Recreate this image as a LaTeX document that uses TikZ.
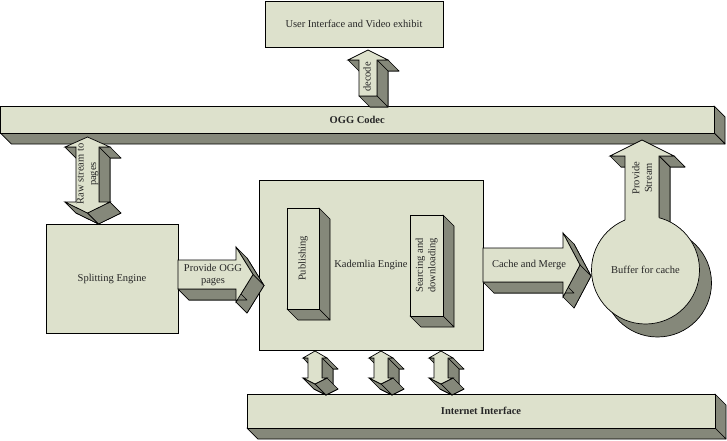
\documentclass[tikz,border=0pt]{standalone}
\usepackage{fontspec}
\setmainfont{Liberation Serif}
\usetikzlibrary{calc}
\definecolor{facec}{RGB}{221,225,204}
\definecolor{sidec}{RGB}{133,136,122}
\tikzset{
 face/.style={fill=facec,draw=black,line width=0.7pt,line join=miter},
 side/.style={fill=sidec,draw=black,line width=0.7pt,line join=round},
 lbl/.style={font=\fontsize{10.5}{12.5}\selectfont,align=center,inner sep=0pt,text=black!85},
}
% side parallelogram of the edge (#1,#2)-(#3,#4), extruded by (11,11)
\newcommand\pg[4]{\filldraw[side] ({#1},{#2}) -- ({#3},{#4}) -- ({#3+11},{#4+11}) -- ({#1+11},{#2+11}) -- cycle;}
% flat box: name x1 y1 x2 y2 text
\newcommand\flatbox[6]{\node[face,lbl,outer sep=0pt,minimum width={(#4-#2)*1pt},minimum height={(#5-#3)*1pt}] (#1) at ({(#2+#4)/2},{(#3+#5)/2}) {#6};}
\newcommand\solidbox[6]{\pg{#4}{#3}{#4}{#5}\pg{#4}{#5}{#2}{#5}\flatbox{#1}{#2}{#3}{#4}{#5}{#6}}
% right arrow: tail x, head x, tip x, centre y, shaft half, head half
\newcommand\rarrow[6]{%
 \begin{scope}[shift={(11,11)}]
 \filldraw[side] ({#1},{#4-#5}) -- ({#2},{#4-#5}) -- ({#2},{#4-#6}) -- ({#3},{#4}) -- ({#2},{#4+#6}) -- ({#2},{#4+#5}) -- ({#1},{#4+#5}) -- cycle;
 \end{scope}
 \pg{#2}{#4-#6}{#3}{#4}\pg{#3}{#4}{#2}{#4+#6}\pg{#2}{#4+#5}{#1}{#4+#5}
 \filldraw[face] ({#1},{#4-#5}) -- ({#2},{#4-#5}) -- ({#2},{#4-#6}) -- ({#3},{#4}) -- ({#2},{#4+#6}) -- ({#2},{#4+#5}) -- ({#1},{#4+#5}) -- cycle;}
% up arrow: cx, tip y, wing y, bottom y, shaft half, wing half
\newcommand\uarrow[6]{%
 \begin{scope}[shift={(11,11)}]
 \filldraw[side] ({#1},{#2}) -- ({#1+#6},{#3}) -- ({#1+#5},{#3}) -- ({#1+#5},{#4}) -- ({#1-#5},{#4}) -- ({#1-#5},{#3}) -- ({#1-#6},{#3}) -- cycle;
 \end{scope}
 \pg{#1+#6}{#3}{#1+#5}{#3}\pg{#1+#5}{#3}{#1+#5}{#4}\pg{#1+#5}{#4}{#1-#5}{#4}\pg{#1-#5}{#3}{#1-#6}{#3}
 \filldraw[face] ({#1},{#2}) -- ({#1+#6},{#3}) -- ({#1+#5},{#3}) -- ({#1+#5},{#4}) -- ({#1-#5},{#4}) -- ({#1-#5},{#3}) -- ({#1-#6},{#3}) -- cycle;}
% double vertical arrow: cx, top tip, top wing, bottom wing, bottom tip, shaft half, wing half
\newcommand\darrow[7]{%
 \begin{scope}[shift={(11,11)}]
 \filldraw[side] ({#1},{#2}) -- ({#1+#7},{#3}) -- ({#1+#6},{#3}) -- ({#1+#6},{#4}) -- ({#1+#7},{#4}) -- ({#1},{#5}) -- ({#1-#7},{#4}) -- ({#1-#6},{#4}) -- ({#1-#6},{#3}) -- ({#1-#7},{#3}) -- cycle;
 \end{scope}
 \pg{#1+#7}{#3}{#1+#6}{#3}\pg{#1+#6}{#3}{#1+#6}{#4}\pg{#1+#7}{#4}{#1}{#5}\pg{#1}{#5}{#1-#7}{#4}\pg{#1-#6}{#3}{#1-#7}{#3}
 \filldraw[face] ({#1},{#2}) -- ({#1+#7},{#3}) -- ({#1+#6},{#3}) -- ({#1+#6},{#4}) -- ({#1+#7},{#4}) -- ({#1},{#5}) -- ({#1-#7},{#4}) -- ({#1-#6},{#4}) -- ({#1-#6},{#3}) -- ({#1-#7},{#3}) -- cycle;}
\begin{document}
\begin{tikzpicture}[x=1pt,y=-1pt]
\useasboundingbox (0,0) rectangle (727,440);
\fill[white] (0,0) rectangle (727,440);
% bars
\solidbox{ogg}{0.5}{106}{714}{133}{\textbf{OGG Codec}}
\solidbox{inet}{247}{394}{715}{428}{\textbf{Internet Interface}}
% boxes
\flatbox{ui}{265}{1.5}{443}{47}{User Interface and Video exhibit}
\flatbox{split}{46}{224}{178}{333}{Splitting Engine}
\flatbox{kad}{259}{180}{483}{350}{Kademlia Engine}
\solidbox{pub}{287}{208}{319}{309}{}
\node[lbl,rotate=90] (lpub) at (pub.center) {Publishing};
\solidbox{search}{410}{215}{443}{316}{}
\node[lbl,rotate=90] (lsearch) at (search.center) {Searcing and\\downloading};
% decode arrow
\uarrow{368}{50}{60}{96}{9}{20}
\node[lbl,rotate=90] (ldecode) at (367,77) {decode};
% raw stream double arrow
\darrow{87.5}{137}{147}{202}{213}{11.5}{22.5}
\node[lbl,rotate=90] (lraw) at (87.5,174) {Raw stream to\\pages};
% provide OGG pages
\rarrow{178}{236}{253}{274.5}{14.5}{27.5}
\node[lbl] (logg) at (213,275) {Provide OGG\\pages};
% cache and merge
\rarrow{483}{563}{580}{265}{17}{32}
\node[lbl] (lcache) at (529,265) {Cache and Merge};
% internet double arrows
\darrow{315}{351}{358}{378}{384}{7}{12}
\darrow{381}{351}{358}{378}{384}{7}{12}
\darrow{441}{351}{358}{378}{384}{7}{12}
% buffer circle with provide stream arrow
\node[circle,side,minimum size=108pt,inner sep=0pt] (bufshadow) at (657.5,283) {};
\begin{scope}[shift={(11,11)}]
\filldraw[side] (642,140) -- (674,156) -- (659,156) -- (659,240) -- (625,240) -- (625,156) -- (610,156) -- cycle;
\end{scope}
\pg{674}{156}{659}{156}\pg{659}{156}{659}{240}\pg{625}{156}{610}{156}
\node[circle,face,lbl,minimum size=108pt] (buf) at (645.5,270) {Buffer for cache};
\fill[facec] (642,140) -- (674,156) -- (659,156) -- (659,240) -- (625,240) -- (625,156) -- (610,156) -- cycle;
\draw[line width=0.7pt] (625,220) -- (625,156) -- (610,156) -- (642,140) -- (674,156) -- (659,156) -- (659,217.7);
\node[lbl,rotate=90] (lstream) at (642,178) {Provide\\Stream};
\end{tikzpicture}
\end{document}
